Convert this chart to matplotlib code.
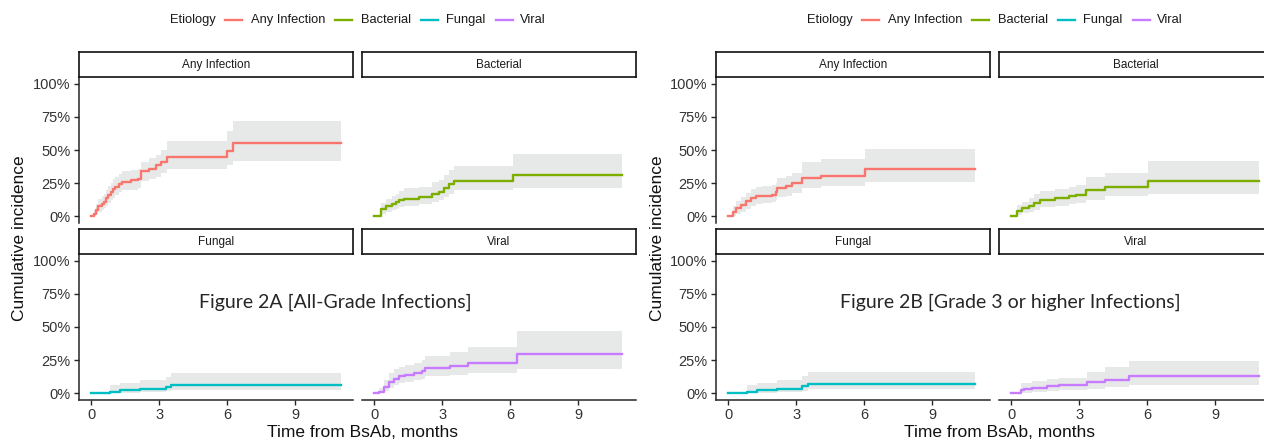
import numpy as np
import matplotlib
matplotlib.use('Agg')
import matplotlib.pyplot as plt
from matplotlib.lines import Line2D

W, H = 1264, 440

etiologies = ['Any Infection', 'Bacterial', 'Fungal', 'Viral']
colours = ['#F8766D', '#7CAE00', '#00BFC4', '#C77CFF']
y_ticks = [0, 25, 50, 75, 100]
y_labels = ['0%', '25%', '50%', '75%', '100%']
x_ticks = [0, 3, 6, 9]

# Figure 2A, all-grade infections (months, cumulative incidence %)
a_any_t = [0, 0.1, 0.2, 0.3, 0.45, 0.55, 0.65, 0.75, 0.85, 0.95, 1.05, 1.2, 1.35, 1.75, 2.05, 2.2, 2.55, 2.85, 3.05, 3.35, 6.0, 6.25, 11.0]
a_any_est = [0, 2, 4.5, 7.5, 9.5, 11, 13.5, 16, 18, 20.5, 22.5, 24.5, 26, 27.3, 28.5, 34.5, 36, 39, 41, 44.5, 49.5, 55, 55]
a_any_hi = [0, 5, 9, 13, 15.5, 17, 20, 23, 25, 28, 30, 32, 34, 35, 36, 41, 44, 46, 50, 57, 64, 72, 72]
a_any_lo = [0, 0, 1.5, 3.5, 5, 6.5, 8, 10, 12, 14, 16, 18, 19.5, 20, 21.5, 26.5, 28, 30, 32.5, 35.5, 39, 42, 42]

a_bac_t = [0, 0.28, 0.5, 0.79, 0.95, 1.08, 1.3, 1.96, 2.54, 2.87, 3.06, 3.27, 3.5, 6.1, 10.95]
a_bac_est = [0, 5.8, 7.8, 9, 10.5, 12, 13.4, 14.6, 17.2, 18.4, 21.7, 24.7, 26.8, 31, 31]
a_bac_hi = [0, 10, 13, 15, 17, 19, 21, 22.5, 26, 27.5, 31, 35, 38, 47, 47]
a_bac_lo = [0, 2, 3.5, 4.5, 5.5, 7, 8, 9, 11, 12, 14.5, 17, 19.5, 21, 21]

a_fun_t = [0, 0.8, 1.24, 2.15, 3.29, 3.5, 11.0]
a_fun_est = [0, 1.3, 2.5, 3.5, 5, 6.5, 6.5]
a_fun_hi = [0, 6, 7.5, 10, 12.6, 15, 15]
a_fun_lo = [0, 0, 0.5, 1, 1.8, 2.5, 2.5]

a_vir_t = [0, 0.2, 0.42, 0.64, 0.86, 1.08, 1.37, 1.74, 2.1, 2.25, 3.35, 4.15, 6.3, 10.95]
a_vir_est = [0, 1, 4.8, 8.6, 11, 12.9, 13.6, 15.4, 16.9, 19.2, 20.7, 23.2, 29.3, 29.3]
a_vir_hi = [0, 4, 10, 15, 18, 20, 21, 23, 25, 28.5, 31, 34.6, 47, 47]
a_vir_lo = [0, 0, 1.5, 4, 6, 8, 8.6, 10, 11, 13, 14, 15.5, 18.7, 18.7]

# Figure 2B, grade 3 or higher infections
b_any_t = [0, 0.19, 0.33, 0.55, 0.77, 0.99, 1.21, 1.5, 1.94, 2.08, 2.15, 2.52, 2.8, 3.25, 4.09, 6.01, 10.9]
b_any_est = [0, 3.6, 6.2, 8.7, 11.2, 13.8, 15, 15.7, 16.3, 18, 21.3, 22.6, 25, 29, 30.7, 35.8, 35.8]
b_any_hi = [0, 8, 11.5, 14.5, 17.5, 20.5, 22, 22.6, 23.5, 25.5, 29, 30.5, 33, 40.8, 43.3, 50.4, 50.4]
b_any_lo = [0, 0.5, 2, 3.5, 5.5, 8, 9, 10, 10.5, 12, 14.5, 15.5, 17.5, 21, 22.6, 25.6, 25.6]

b_bac_t = [0, 0.26, 0.48, 0.77, 0.99, 1.28, 1.93, 2.56, 2.85, 3.3, 4.12, 6.05, 10.93]
b_bac_est = [0, 4.4, 6.2, 8, 10.4, 12.5, 13.8, 15, 16.3, 19.6, 22.1, 26.4, 26.4]
b_bac_hi = [0, 8.5, 11, 13.5, 16.5, 19, 20.5, 22, 24, 30, 32.7, 41.5, 41.5]
b_bac_lo = [0, 1, 2.5, 3.5, 5, 7, 8, 9, 10, 12.5, 15, 17, 17]

b_fun_t = [0, 0.8, 1.24, 2.15, 3.25, 3.5, 10.9]
b_fun_est = [0, 1.3, 2.5, 3.6, 5.6, 6.9, 6.9]
b_fun_hi = [0, 6, 7.5, 10, 13, 15.8, 15.8]
b_fun_lo = [0, 0, 0.5, 1, 2, 3, 3]

b_vir_t = [0, 0.41, 0.55, 0.92, 1.57, 2.1, 3.34, 4.14, 5.17, 10.93]
b_vir_est = [0, 2.5, 3, 4.3, 5.6, 6.6, 8.2, 10.2, 13.2, 13.2]
b_vir_hi = [0, 7.5, 8, 9.5, 10.5, 11.5, 15.8, 19.6, 24.7, 24.7]
b_vir_lo = [0, 0.3, 0.5, 1, 1.8, 2.5, 3.5, 5, 6.4, 6.4]

fig_a = [(a_any_t, a_any_est, a_any_lo, a_any_hi), (a_bac_t, a_bac_est, a_bac_lo, a_bac_hi),
         (a_fun_t, a_fun_est, a_fun_lo, a_fun_hi), (a_vir_t, a_vir_est, a_vir_lo, a_vir_hi)]
fig_b = [(b_any_t, b_any_est, b_any_lo, b_any_hi), (b_bac_t, b_bac_est, b_bac_lo, b_bac_hi),
         (b_fun_t, b_fun_est, b_fun_lo, b_fun_hi), (b_vir_t, b_vir_est, b_vir_lo, b_vir_hi)]
titles = ['Figure 2A [All-Grade Infections]', 'Figure 2B [Grade 3 or higher Infections]']

plt.rcParams['font.family'] = ['Liberation Sans', 'DejaVu Sans']
fig = plt.figure(figsize=(W / 100, H / 100), dpi=100)

def px_axes(x0, y0, w, h):
    return fig.add_axes([x0 / W, 1 - (y0 + h) / H, w / W, h / H])

col_x = [79, 362]
panel_w = 274
row_y = [77, 254]
panel_h = 146
strip_h = 25
axis_col = '#262626'
text_col = '#333333'

def draw_half(dx, panels, title, title_x):
    for i, (t, est, lo, hi) in enumerate(panels):
        r, c = divmod(i, 2)
        ax = px_axes(col_x[c] + dx, row_y[r], panel_w, panel_h)
        ax.fill_between(t, lo, hi, step='post', color='#e7e8e8', lw=0)
        ax.step(t, est, where='post', color=colours[i], lw=1.7)
        ax.set_xlim(-0.55, 11.55)
        ax.set_ylim(-5, 105)
        for s in ['top', 'right']:
            ax.spines[s].set_visible(False)
        ax.spines['left'].set_visible(c == 0)
        ax.spines['bottom'].set_visible(r == 1)
        for s in ['left', 'bottom']:
            ax.spines[s].set_linewidth(1.1)
            ax.spines[s].set_color(axis_col)
        if c == 0:
            ax.set_yticks(y_ticks)
            ax.set_yticklabels(y_labels)
        else:
            ax.set_yticks([])
        if r == 1:
            ax.set_xticks(x_ticks)
        else:
            ax.set_xticks([])
        ax.tick_params(length=3.5, width=1, color=axis_col, labelsize=10.5,
                       labelcolor=text_col, pad=2.5)
        ax.patch.set_alpha(0)

        sy = row_y[r] - strip_h
        st = px_axes(col_x[c] + dx, sy, panel_w, strip_h)
        st.set_xticks([])
        st.set_yticks([])
        for s in st.spines.values():
            s.set_linewidth(1.2)
            s.set_color('#111111')
        st.text(0.5, 0.5, etiologies[i], ha='center', va='center', fontsize=8.5,
                color='#1a1a1a', transform=st.transAxes)

    fig.text((20 + dx) / W, 1 - 238 / H, 'Cumulative incidence', rotation=90,
             ha='center', va='center', fontsize=12.5, color='#111111')
    fig.text((362 + dx) / W, 1 - 432 / H, 'Time from BsAb, months',
             ha='center', va='center', fontsize=12.5, color='#111111')
    fig.text(title_x / W, 1 - 302 / H, title, ha='center', va='center',
             fontsize=14, family=['Lato', 'DejaVu Sans'], color='#262626')

    # legend on top
    ly = 1 - 20 / H
    fig.text((170 + dx) / W, ly, 'Etiology', ha='left', va='center', fontsize=9.3,
             color='#1a1a1a')
    key_x = [225, 335, 421, 496]
    lab_x = [251, 361, 446, 520]
    for k in range(4):
        fig.add_artist(Line2D([(key_x[k] + dx) / W, (key_x[k] + 17 + dx) / W], [ly, ly],
                              color=colours[k], lw=1.7, transform=fig.transFigure))
        fig.text((lab_x[k] + dx) / W, ly, etiologies[k], ha='left', va='center',
                 fontsize=9.3, color='#1a1a1a')

draw_half(0, fig_a, titles[0], 335)
draw_half(637, fig_b, titles[1], 1010)

fig.savefig('out.png', dpi=100, facecolor='white')
